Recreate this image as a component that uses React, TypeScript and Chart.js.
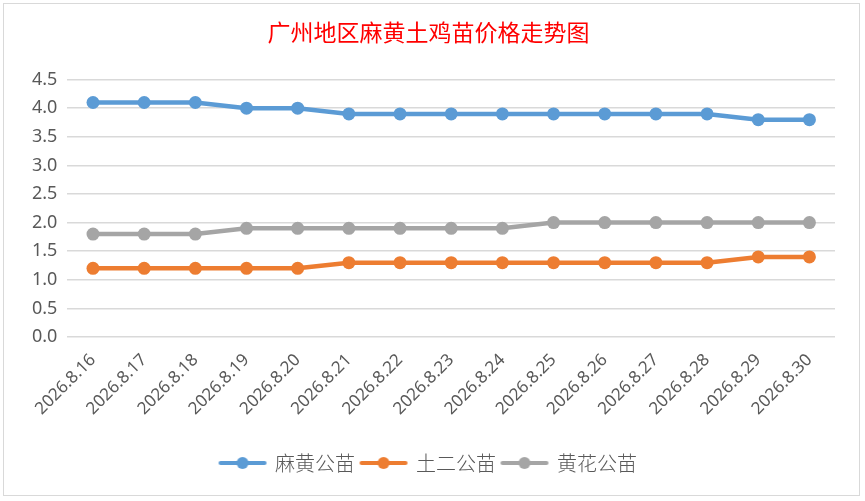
import { useEffect, useRef } from 'react';
import { Chart, registerables, ChartConfiguration } from 'chart.js';

Chart.register(...registerables);

const labels = [
  '2026.8.16', '2026.8.17', '2026.8.18', '2026.8.19', '2026.8.20',
  '2026.8.21', '2026.8.22', '2026.8.23', '2026.8.24', '2026.8.25',
  '2026.8.26', '2026.8.27', '2026.8.28', '2026.8.29', '2026.8.30',
];
const mahuang = [4.1, 4.1, 4.1, 4.0, 4.0, 3.9, 3.9, 3.9, 3.9, 3.9, 3.9, 3.9, 3.9, 3.8, 3.8];
const tuer = [1.2, 1.2, 1.2, 1.2, 1.2, 1.3, 1.3, 1.3, 1.3, 1.3, 1.3, 1.3, 1.3, 1.4, 1.4];
const huanghua = [1.8, 1.8, 1.8, 1.9, 1.9, 1.9, 1.9, 1.9, 1.9, 2.0, 2.0, 2.0, 2.0, 2.0, 2.0];

const seriesNames = ['麻黄公苗', '土二公苗', '黄花公苗'];
const seriesColors = ['#5b9bd5', '#ed7d31', '#a5a5a5'];

// little line+dot swatch for the legend
function legendSwatch(color: string) {
  const c = document.createElement('canvas');
  c.width = 50;
  c.height = 14;
  const g = c.getContext('2d')!;
  g.strokeStyle = color;
  g.lineWidth = 4;
  g.lineCap = 'round';
  g.beginPath();
  g.moveTo(3, 7);
  g.lineTo(47, 7);
  g.stroke();
  g.fillStyle = color;
  g.beginPath();
  g.arc(25, 7, 6, 0, Math.PI * 2);
  g.fill();
  return c;
}

export default function App() {
  const chartRef = useRef<HTMLCanvasElement>(null);
  const chartInstance = useRef<Chart | null>(null);

  useEffect(() => {
    document.body.style.margin = '0';
    if (!chartRef.current) return;
    const ctx = chartRef.current.getContext('2d');
    if (!ctx) return;

    const values = [mahuang, tuer, huanghua];
    const swatches = seriesColors.map(legendSwatch);

    const config: ChartConfiguration<'line'> = {
      type: 'line',
      data: {
        labels,
        datasets: values.map((v, i) => ({
          label: seriesNames[i],
          data: v,
          borderColor: seriesColors[i],
          backgroundColor: seriesColors[i],
          borderWidth: 4.5,
          pointRadius: 6.5,
          pointBorderWidth: 0,
          pointBackgroundColor: seriesColors[i],
          tension: 0,
          fill: false,
        })),
      },
      options: {
        responsive: true,
        maintainAspectRatio: false,
        animation: false,
        layout: { padding: { left: 18, right: 24, top: 6, bottom: 12 } },
        plugins: {
          title: {
            display: true,
            text: '广州地区麻黄土鸡苗价格走势图',
            color: '#ff0000',
            font: { family: '"Noto Sans CJK SC"', size: 23, weight: 'normal' },
            padding: { top: 8, bottom: 34 },
          },
          legend: {
            position: 'bottom',
            labels: {
              usePointStyle: true,
              pointStyleWidth: 45,
              generateLabels: (chart) =>
                chart.data.datasets.map((d, i) => ({
                  text: d.label as string,
                  pointStyle: swatches[i],
                  fillStyle: seriesColors[i],
                  strokeStyle: seriesColors[i],
                  lineWidth: 0,
                  hidden: false,
                  datasetIndex: i,
                  fontColor: '#595959',
                })),
              color: '#595959',
              font: { family: '"Noto Sans CJK SC"', size: 20, weight: 300 },
              padding: 6,
            },
          },
          tooltip: { enabled: false },
        },
        scales: {
          x: {
            offset: true,
            grid: { display: false },
            border: { display: false },
            afterFit: (scale) => {
              scale.height = 110;
            },
            ticks: {
              color: '#595959',
              font: { family: '"Noto Sans"', size: 17 },
              maxRotation: 45,
              minRotation: 45,
              autoSkip: false,
              padding: 5,
            },
          },
          y: {
            min: 0,
            max: 4.5,
            grid: { color: '#d9d9d9', lineWidth: 1.5, drawTicks: false },
            border: { display: false },
            ticks: {
              stepSize: 0.5,
              color: '#595959',
              font: { family: '"Noto Sans"', size: 18 },
              padding: 10,
              callback: (value) => Number(value).toFixed(1),
            },
          },
        },
      },
    };

    chartInstance.current = new Chart(ctx, config);
    return () => {
      chartInstance.current?.destroy();
      chartInstance.current = null;
    };
  }, []);

  return (
    <div
      style={{
        position: 'absolute',
        left: 3,
        top: 3,
        width: 855,
        height: 491,
        border: '1px solid #d9d9d9',
        background: '#fff',
      }}
    >
      <canvas ref={chartRef}></canvas>
    </div>
  );
}
